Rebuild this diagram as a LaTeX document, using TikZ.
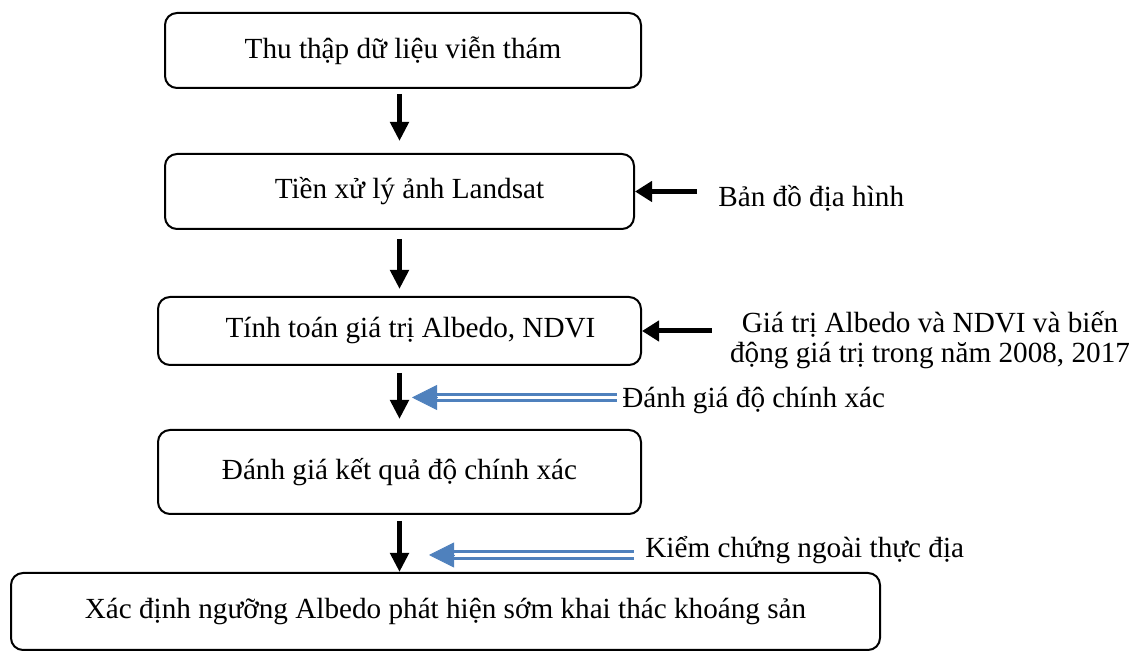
\documentclass[tikz,border=0pt]{standalone}
\usepackage{fontspec}
\setmainfont{Liberation Serif}
\usepackage{xcolor}
\usetikzlibrary{positioning,arrows.meta,calc}
\definecolor{checkblue}{HTML}{4F81BD}
\tikzset{
  stepbox/.style={draw=black, line width=1pt, rounded corners=6pt, inner sep=0pt,
                  align=center, font=\fontsize{14.6}{17.5}\selectfont},
  note/.style={inner sep=0pt, align=center, font=\fontsize{14.6}{15}\selectfont},
  flowarr/.style={-{Triangle[width=9pt,length=9.5pt]}, line width=2.75pt, draw=black},
  sidearr/.style={-{Triangle[width=10pt,length=8.5pt]}, line width=2.5pt, draw=black},
  checkline/.style={draw=checkblue, double=white, line width=1.5pt, double distance=1.6pt},
  checkhead/.style={-{Triangle[width=12.5pt,length=12.5pt]}, line width=0.4pt, draw=checkblue},
}

\begin{document}
\begin{tikzpicture}[x=0.5pt,y=-0.5pt]
  \useasboundingbox (0,0) rectangle (1136,651);
  % main steps
  \node[stepbox, minimum width=238pt, minimum height=37.5pt] (thu) at (403,50.5)
    {Thu thập dữ liệu viễn thám};
  \node[stepbox, minimum width=234.5pt, minimum height=37.5pt] (tien) at (399.5,191.5)
    {\hspace*{10pt}Tiền xử lý ảnh Landsat};
  \node[stepbox, minimum width=241.5pt, minimum height=34pt] (tinh) at (399.5,331)
    {\hspace*{11pt}Tính toán giá trị Albedo, NDVI};
  \node[stepbox, minimum width=241.5pt, minimum height=42pt] (danh) at (399.5,472)
    {Đánh giá kết quả độ chính xác};
  \node[stepbox, minimum width=434.5pt, minimum height=38.5pt] (xac) at (445.5,611.5)
    {Xác định ngưỡng Albedo phát hiện sớm khai thác khoáng sản};
  % side inputs
  \node[note, anchor=west] (bando) at (718,198) {Bản đồ địa hình};
  \node[note] (giatri) at (930,340)
    {Giá trị Albedo và NDVI và biến\\ động giá trị trong năm 2008, 2017};
  \node[note, anchor=west] (dgia) at (622,400) {Đánh giá độ chính xác};
  \node[note, anchor=west] (kiem) at (645,550) {Kiểm chứng ngoài thực địa};
  \coordinate (dgtip) at (412,397.5);
  \coordinate (kmtip) at (429,555);
  % flow
  \draw[flowarr] ([yshift=-2.5pt]thu.south -| tien.north) -- ([yshift=6pt]tien.north);
  \draw[flowarr] ([yshift=-4.5pt]tien.south) -- ([yshift=3.5pt]tinh.north);
  \draw[flowarr] ([yshift=-3.5pt]tinh.south) -- ([yshift=5pt]danh.north);
  \draw[flowarr] ([yshift=-3pt]danh.south) -- (danh.south |- xac.north);
  \draw[sidearr] ([xshift=-10.5pt]bando.west |- tien.east) -- (tien.east);
  \draw[sidearr] ([xshift=-9pt]giatri.west |- tinh.east) -- (tinh.east);
  % checks
  \draw[checkline] ([xshift=-2.5pt]dgia.west |- dgtip) -- ([xshift=12pt]dgtip);
  \draw[checkhead] ([xshift=12.5pt]dgtip) -- (dgtip);
  \draw[checkline] ([xshift=-5.5pt]kiem.west |- kmtip) -- ([xshift=12pt]kmtip);
  \draw[checkhead] ([xshift=12.5pt]kmtip) -- (kmtip);
\end{tikzpicture}
\end{document}
